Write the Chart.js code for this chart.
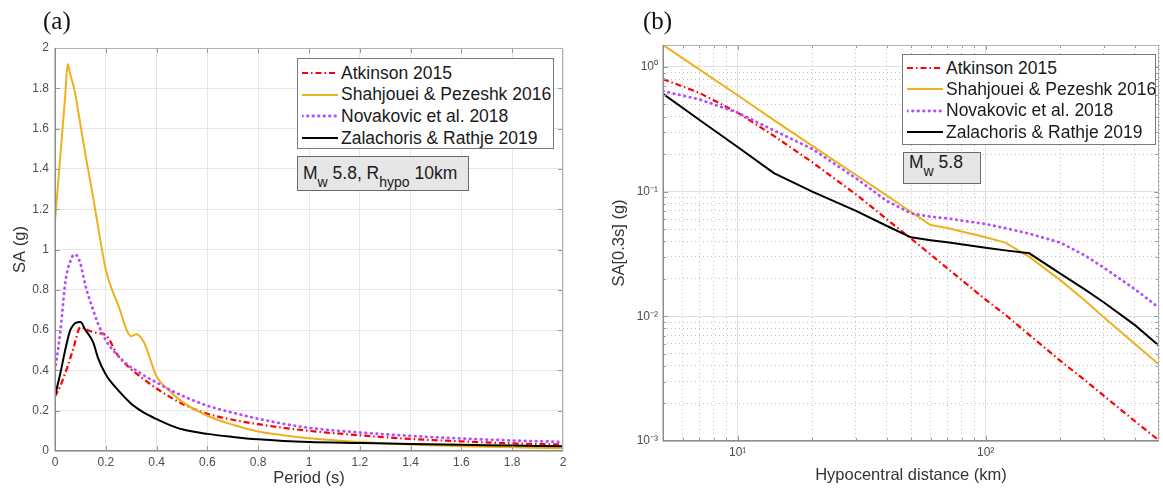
<!DOCTYPE html>
<html>
<head>
<meta charset="utf-8">
<script src="https://cdn.jsdelivr.net/npm/chart.js@4.4.1/dist/chart.umd.min.js"></script>
<style>
  html, body { margin: 0; padding: 0; background: #fff; }
  body { width: 1163px; height: 492px; position: relative; overflow: hidden;
         font-family: 'Liberation Sans', Arial, Helvetica, sans-serif; }
  canvas { position: absolute; top: 0; }
  #chartA { left: 0; }
  #chartB { left: 590px; }
  .panel-label { position: absolute; top: 8px; font-family: 'Liberation Serif', 'Times New Roman', serif;
                 font-size: 25px; line-height: 25px; color: #111; }
  .legend { position: absolute; background: #fff; border: 1px solid #7a7a7a; box-sizing: border-box; }
  .legend .row { position: absolute; left: 0; height: 22px; display: flex; align-items: center;
                 font-size: 17.5px; color: #1a1a1a; white-space: nowrap; }
  .legend svg { margin-left: 4px; margin-right: 3px; }
  .note { position: absolute; background: #e6e6e6; border: 1px solid #6a6a6a; box-sizing: border-box;
          font-size: 17.5px; color: #1a1a1a; white-space: nowrap; padding-left: 5px; }
  .note sub { font-size: 14px; vertical-align: -8px; line-height: 0; }
</style>
</head>
<body>
<canvas id="chartA" width="590" height="492"></canvas>
<canvas id="chartB" width="573" height="492"></canvas>

<div class="panel-label" style="left:43px">(a)</div>
<div class="panel-label" style="left:643px">(b)</div>

<div class="legend" id="legendA" style="left:297px; top:58px; width:257px; height:91px"></div>
<div class="legend" id="legendB" style="left:902px; top:54px; width:254px; height:91px"></div>

<div class="note" style="left:297px; top:156px; width:172px; height:35px; line-height:32px">M<sub>w</sub> 5.8, R<sub>hypo</sub> 10km</div>
<div class="note" style="left:903px; top:152px; width:78px; height:32px; line-height:18px">M<sub>w</sub> 5.8</div>

<script>
// Series names (same order in both panels)
const seriesNames = ['Atkinson 2015', 'Shahjouei & Pezeshk 2016', 'Novakovic et al. 2018', 'Zalachoris & Rathje 2019'];

// Panel (a): response spectra, Mw 5.8, Rhypo 10 km
const periods = [0, 0.02, 0.04, 0.05, 0.06, 0.075, 0.08, 0.1, 0.12, 0.15, 0.17, 0.2, 0.25, 0.3, 0.32, 0.35,
                 0.4, 0.45, 0.5, 0.6, 0.7, 0.8, 0.9, 1.0, 1.2, 1.4, 1.6, 1.8, 2.0];
const saAtkinson = [0.27, 0.32, 0.385, 0.42, 0.46, 0.52, 0.545, 0.615, 0.605, 0.59, 0.585, 0.575, 0.47, 0.405, 0.385, 0.355,
                    0.31, 0.27, 0.235, 0.185, 0.155, 0.133, 0.115, 0.10, 0.078, 0.06, 0.048, 0.038, 0.032];
const saShahjouei = [1.14, 1.45, 1.76, 1.92, 1.87, 1.80, 1.77, 1.62, 1.47, 1.26, 1.11, 0.90, 0.72, 0.57, 0.58, 0.54,
                     0.37, 0.30, 0.245, 0.175, 0.13, 0.097, 0.078, 0.063, 0.045, 0.032, 0.024, 0.018, 0.014];
const saNovakovic = [0.40, 0.58, 0.83, 0.90, 0.94, 0.975, 0.975, 0.93, 0.82, 0.70, 0.63, 0.55, 0.47, 0.415, 0.40, 0.375,
                     0.34, 0.305, 0.275, 0.225, 0.19, 0.16, 0.135, 0.115, 0.092, 0.075, 0.062, 0.052, 0.045];
const saZalachoris = [0.275, 0.38, 0.50, 0.555, 0.60, 0.63, 0.635, 0.64, 0.60, 0.54, 0.46, 0.38, 0.30, 0.235, 0.215, 0.19,
                      0.158, 0.13, 0.108, 0.085, 0.07, 0.058, 0.05, 0.045, 0.04, 0.035, 0.031, 0.027, 0.023];

// Panel (b): SA(0.3 s) vs hypocentral distance, Mw 5.8
const distances = [5, 7, 10, 14, 20, 30, 40, 50, 60, 70, 100, 120, 150, 200, 250, 300, 400, 500];
const sa03Atkinson = [0.80, 0.62, 0.43, 0.28, 0.172, 0.095, 0.060, 0.042, 0.0313, 0.0243, 0.0136, 0.0103, 0.0071,
                      0.0044, 0.0031, 0.0023, 0.00144, 0.00101];
const sa03Shahjouei = [1.5, 0.956, 0.593, 0.375, 0.233, 0.136, 0.093, 0.0686, 0.054, 0.051, 0.043, 0.039, 0.030,
                       0.0195, 0.0135, 0.0098, 0.0060, 0.0041];
const sa03Novakovic = [0.64, 0.55, 0.43, 0.31, 0.22, 0.128, 0.084, 0.067, 0.063, 0.061, 0.055, 0.051, 0.046,
                       0.039, 0.031, 0.0245, 0.0165, 0.0117];
const sa03Zalachoris = [0.61, 0.377, 0.228, 0.141, 0.10, 0.07, 0.053, 0.043, 0.0408, 0.0392, 0.0355, 0.0338, 0.032,
                        0.022, 0.0165, 0.0129, 0.0085, 0.0058];

// Line styles (MATLAB look)
const lineColors = ['#ff0000', '#edb120', '#b54dff', '#000000'];
const lineWidths = [2.2, 2, 2.8, 2];
const lineDashes = [[6, 3, 1.5, 3], [], [0.5, 5], []];
const lineCaps = ['butt', 'butt', 'round', 'butt'];

const FONT = "'Liberation Sans', Arial, Helvetica, sans-serif";

function toPoints(xs, ys) {
  return xs.map((x, i) => ({ x: x, y: ys[i] }));
}

function makeDataset(i, xs, ys, smooth) {
  return {
    label: seriesNames[i],
    data: toPoints(xs, ys),
    borderColor: lineColors[i],
    borderWidth: lineWidths[i],
    borderDash: lineDashes[i],
    borderCapStyle: lineCaps[i],
    cubicInterpolationMode: smooth ? 'monotone' : 'default',
    tension: 0,
    pointRadius: 0,
    fill: false,
    order: 4 - i
  };
}

function isMajor(v) {
  const l = Math.log10(v);
  return Math.abs(l - Math.round(l)) < 1e-6;
}

// 1..9 x 10^k ticks inside [min, max]
function logTicks(min, max) {
  const out = [];
  for (let k = Math.floor(Math.log10(min)); k <= Math.ceil(Math.log10(max)); k++) {
    for (let m = 1; m <= 9; m++) {
      const v = parseFloat((m * Math.pow(10, k)).toPrecision(6));
      if (v >= min * 0.999999 && v <= max * 1.000001) out.push(v);
    }
  }
  return out;
}

const supMap = { '-': '\u207B', '0': '\u2070', '1': '\u00B9', '2': '\u00B2', '3': '\u00B3', '4': '\u2074',
                 '5': '\u2075', '6': '\u2076', '7': '\u2077', '8': '\u2078', '9': '\u2079' };
function powLabel(v) {
  if (!isMajor(v)) return '';
  const e = String(Math.round(Math.log10(v)));
  return '10' + e.split('').map(c => supMap[c]).join('');
}

// axes box with inward ticks, like MATLAB "box on"
const framePlugin = {
  id: 'frame',
  afterDraw(chart, args, opts) {
    const { ctx, chartArea: a, scales } = chart;
    const xs = scales.x, ys = scales.y;
    ctx.save();
    ctx.strokeStyle = '#9a9a9a';
    ctx.lineWidth = 1;
    ctx.beginPath();
    xs.ticks.forEach(t => {
      const p = Math.round(xs.getPixelForValue(t.value)) + 0.5;
      if (p < a.left + 1 || p > a.right - 1) return;
      const len = opts.log && !isMajor(t.value) ? 3 : 5;
      ctx.moveTo(p, a.bottom); ctx.lineTo(p, a.bottom - len);
      ctx.moveTo(p, a.top); ctx.lineTo(p, a.top + len);
    });
    ys.ticks.forEach(t => {
      const p = Math.round(ys.getPixelForValue(t.value)) + 0.5;
      if (p < a.top + 1 || p > a.bottom - 1) return;
      const len = opts.log && !isMajor(t.value) ? 3 : 5;
      ctx.moveTo(a.left, p); ctx.lineTo(a.left + len, p);
      ctx.moveTo(a.right, p); ctx.lineTo(a.right - len, p);
    });
    ctx.stroke();
    // top / right
    ctx.strokeStyle = '#b0b0b0';
    ctx.beginPath();
    ctx.moveTo(a.left, a.top + 0.5); ctx.lineTo(a.right - 0.5, a.top + 0.5); ctx.lineTo(a.right - 0.5, a.bottom);
    ctx.stroke();
    // bottom / left
    ctx.strokeStyle = '#8c8c8c';
    ctx.lineWidth = 1.5;
    ctx.beginPath();
    ctx.moveTo(a.left + 0.25, a.top); ctx.lineTo(a.left + 0.25, a.bottom - 0.25); ctx.lineTo(a.right, a.bottom - 0.25);
    ctx.stroke();
    ctx.restore();
  }
};

const tickFont = { family: FONT, size: 12 };
const titleFont = { family: FONT, size: 16.5 };
const tickColor = '#4d4d4d';
const titleColor = '#333333';

// Panel (a)
new Chart(document.getElementById('chartA'), {
  type: 'line',
  data: {
    datasets: [
      makeDataset(0, periods, saAtkinson, true),
      makeDataset(1, periods, saShahjouei, true),
      makeDataset(2, periods, saNovakovic, true),
      makeDataset(3, periods, saZalachoris, true)
    ]
  },
  options: {
    responsive: false,
    animation: false,
    layout: { padding: { left: 0, top: 48, right: 27, bottom: 0 } },
    plugins: { legend: { display: false }, tooltip: { enabled: false }, frame: { log: false } },
    scales: {
      x: {
        type: 'linear', min: 0, max: 2,
        ticks: { stepSize: 0.2, font: tickFont, color: tickColor, padding: 4, maxRotation: 0,
                 callback: v => String(Math.round(v * 10) / 10) },
        grid: { color: '#e6e6e6', drawTicks: false },
        border: { display: false },
        title: { display: true, text: 'Period (s)', font: titleFont, color: titleColor, padding: { bottom: 4 } },
        afterFit: s => { s.height = 41; }
      },
      y: {
        type: 'linear', min: 0, max: 2,
        ticks: { stepSize: 0.2, font: tickFont, color: tickColor, padding: 6,
                 callback: v => String(Math.round(v * 10) / 10) },
        grid: { color: '#e6e6e6', drawTicks: false },
        border: { display: false },
        title: { display: true, text: 'SA (g)', font: titleFont, color: titleColor, padding: { top: 11 } },
        afterFit: s => { s.width = 55; }
      }
    }
  },
  plugins: [framePlugin]
});

// Panel (b)
const logGrid = {
  color: ctx => isMajor(ctx.tick.value) ? '#e0e0e0' : '#c2c2c2',
  drawTicks: false
};
const logBorder = { display: false, dash: ctx => isMajor(ctx.tick.value) ? [] : [1, 3] };

new Chart(document.getElementById('chartB'), {
  type: 'line',
  data: {
    datasets: [
      makeDataset(0, distances, sa03Atkinson, false),
      makeDataset(1, distances, sa03Shahjouei, false),
      makeDataset(2, distances, sa03Novakovic, false),
      makeDataset(3, distances, sa03Zalachoris, false)
    ]
  },
  options: {
    responsive: false,
    animation: false,
    layout: { padding: { left: 0, top: 45, right: 0, bottom: 0 } },
    plugins: { legend: { display: false }, tooltip: { enabled: false }, frame: { log: true } },
    scales: {
      x: {
        type: 'logarithmic', min: 5, max: 500,
        afterBuildTicks: axis => { axis.ticks = logTicks(axis.min, axis.max).map(v => ({ value: v })); },
        ticks: { font: tickFont, color: tickColor, padding: 4, autoSkip: false, maxRotation: 0,
                 callback: v => powLabel(v) },
        grid: logGrid,
        border: logBorder,
        title: { display: true, text: 'Hypocentral distance (km)', font: titleFont, color: titleColor, padding: { bottom: 7 } },
        afterFit: s => { s.height = 51; }
      },
      y: {
        type: 'logarithmic', min: 0.001, max: 1.5,
        afterBuildTicks: axis => { axis.ticks = logTicks(axis.min, axis.max).map(v => ({ value: v })); },
        ticks: { font: tickFont, color: tickColor, padding: 5, autoSkip: false,
                 callback: v => powLabel(v) },
        grid: logGrid,
        border: logBorder,
        title: { display: true, text: 'SA[0.3s] (g)', font: titleFont, color: titleColor, padding: { top: 20 } },
        afterFit: s => { s.width = 73; }
      }
    }
  },
  plugins: [framePlugin]
});

// HTML legends
function buildLegend(el, rowTop, rowStep) {
  seriesNames.forEach((name, i) => {
    const row = document.createElement('div');
    row.className = 'row';
    row.style.top = (rowTop + i * rowStep) + 'px';
    const svgNS = 'http://www.w3.org/2000/svg';
    const svg = document.createElementNS(svgNS, 'svg');
    svg.setAttribute('width', '36');
    svg.setAttribute('height', '10');
    const line = document.createElementNS(svgNS, 'line');
    line.setAttribute('x1', '0'); line.setAttribute('y1', '5');
    line.setAttribute('x2', '36'); line.setAttribute('y2', '5');
    line.setAttribute('stroke', lineColors[i]);
    line.setAttribute('stroke-width', lineWidths[i]);
    if (lineDashes[i].length) line.setAttribute('stroke-dasharray', lineDashes[i].join(' '));
    line.setAttribute('stroke-linecap', lineCaps[i]);
    svg.appendChild(line);
    const span = document.createElement('span');
    span.textContent = name;
    row.appendChild(svg);
    row.appendChild(span);
    el.appendChild(row);
  });
}
buildLegend(document.getElementById('legendA'), 3, 21.7);
buildLegend(document.getElementById('legendB'), 2, 21.4);
</script>
</body>
</html>
